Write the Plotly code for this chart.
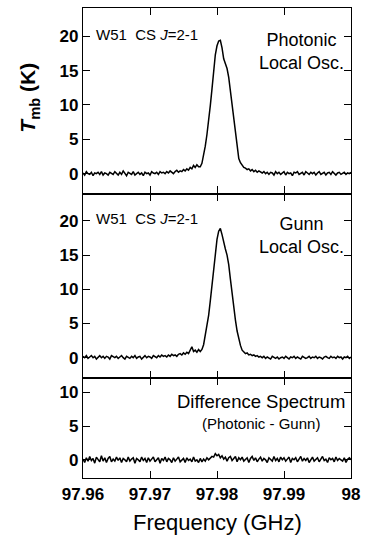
import numpy as np
import plotly.graph_objects as go

# ---- data ----
freq_start = 97.96
freq_step = 0.00025
n_chan = 161

photonic = [
    0.1, -0.2, 0.3, 0.0, -0.1, 0.2, -0.3, 0.1, 0.0, 0.2,
    -0.1, 0.3, -0.2, 0.1, 0.0, -0.2, 0.2, 0.1, -0.1, 0.3,
    0.0, -0.2, 0.2, -0.1, 0.4, 0.0, -0.3, 0.2, 0.1, -0.1,
    0.3, -0.2, 0.0, 0.2, -0.1, 0.1, -0.3, 0.2, 0.0, 0.1,
    -0.2, 0.3, 0.1, 0.0, 0.2, -0.1, 0.3, 0.1, 0.2, 0.0,
    0.3, 0.1, 0.4, 0.2, 0.0, 0.3, 0.5, 0.2, 0.4, 0.3,
    0.6, 0.4, 0.7, 0.5, 0.9, 0.7, 1.2, 0.9, 1.3, 1.0,
    1.0, 1.5, 2.6, 4.0, 5.7, 7.6, 9.9, 12.3, 14.9, 17.3,
    18.6, 19.3, 19.4, 18.3, 16.7, 15.9, 15.3, 14.0, 12.0, 9.6,
    7.5, 5.3, 3.6, 2.2, 1.6, 1.2, 0.9,
    0.8, 0.6, 0.7, 0.4, 0.6, 0.3, 0.5, 0.2, 0.4, 0.3,
    0.1, 0.3, 0.0, 0.2, -0.1, 0.2, 0.1, -0.2, 0.3, 0.0,
    0.2, -0.1, 0.1, 0.3, -0.2, 0.2, 0.0, 0.1, -0.3, 0.2,
    0.1, 0.3, -0.1, 0.0, 0.2, -0.2, 0.3, 0.1, -0.1, 0.2,
    0.0, 0.2, -0.2, 0.1, 0.3, -0.1, 0.0, 0.2, -0.2, 0.1,
    0.2, -0.1, 0.3, 0.0, -0.2, 0.1, 0.2, -0.1, 0.0, 0.2,
    -0.1, 0.1, 0.0, 0.2,
]

gunn = [
    0.2, 0.0, 0.3, -0.1, 0.1, 0.3, 0.0, 0.2, -0.2, 0.1,
    0.3, 0.0, 0.2, -0.1, 0.2, 0.1, -0.2, 0.3, 0.1, 0.0,
    0.2, -0.1, 0.1, 0.3, 0.0, -0.2, 0.2, 0.1, -0.1, 0.2,
    0.0, 0.3, -0.1, 0.1, 0.2, -0.2, 0.1, 0.3, 0.0, 0.2,
    0.1, -0.1, 0.3, 0.2, 0.0, 0.3, 0.1, 0.4, 0.2, 0.3,
    0.1, 0.4, 0.2, 0.5, 0.3, 0.4, 0.2, 0.5, 0.6, 0.4,
    0.7, 0.5, 0.8, 0.6, 1.0, 1.6, 0.9, 1.1, 0.8, 1.2,
    0.9, 1.2, 1.9, 3.2, 4.6, 6.2, 8.3, 10.5, 13.0, 15.4,
    17.3, 18.5, 18.9, 18.0, 16.8, 15.9, 15.0, 13.6, 11.5, 9.3,
    7.3, 5.5, 3.9, 2.6, 1.8, 1.1, 0.8,
    0.6, 0.7, 0.4, 0.5, 0.3, 0.4, 0.2, 0.3, 0.1, 0.2,
    0.0, 0.2, -0.1, 0.1, 0.0, -0.2, 0.2, 0.0, -0.1, 0.1,
    -0.2, 0.0, 0.1, -0.1, 0.2, 0.0, -0.2, 0.1, 0.0, 0.2,
    -0.1, 0.1, 0.0, -0.2, 0.2, 0.1, -0.1, 0.0, 0.2, -0.1,
    0.1, 0.0, 0.2, -0.1, 0.1, 0.0, -0.2, 0.1, 0.2, 0.0,
    -0.1, 0.2, 0.0, 0.1, -0.1, 0.2, 0.0, 0.1, -0.2, 0.1,
    0.0, 0.2, -0.1, 0.1,
]

difference = [
    0.1, -0.4, 0.3, -0.2, 0.5, -0.1, 0.2, -0.5, 0.4, 0.0,
    -0.3, 0.6, -0.2, 0.3, -0.4, 0.2, 0.5, -0.3, 0.1, -0.2,
    0.4, -0.1, 0.3, -0.4, 0.2, 0.0, -0.3, 0.4, -0.2, 0.1,
    0.3, -0.5, 0.2, 0.0, -0.3, 0.4, -0.1, 0.2, -0.4, 0.3,
    -0.2, 0.1, 0.4, -0.3, 0.0, 0.3, -0.5, 0.2, -0.1, 0.4,
    -0.3, 0.2, 0.0, -0.4, 0.3, -0.2, 0.1, 0.4, -0.3, 0.0,
    0.2, -0.4, 0.3, -0.1, 0.1, -0.3, 0.4, -0.2, 0.0, -0.4,
    0.2, -0.3, 0.1, -0.2, 0.3, 0.0, 0.2, 0.5, 0.4, 0.9,
    0.6, 0.8, 0.3, 0.6, 0.1, 0.4, -0.2, 0.3, 0.5, -0.1,
    0.2, 0.5, -0.3, 0.3, 0.0, 0.4, -0.2, 0.1, 0.3, -0.4,
    0.2, 0.5, -0.1, 0.3, -0.3, 0.1, 0.4, -0.2, 0.2, 0.0,
    -0.4, 0.3, 0.1, -0.2, 0.5, -0.1, 0.2, -0.3, 0.4, 0.0,
    0.3, -0.2, 0.1, 0.4, -0.4, 0.2, 0.0, 0.3, -0.3, 0.1,
    0.5, -0.2, 0.2, -0.1, 0.3, -0.4, 0.1, 0.4, -0.2, 0.0,
    0.3, -0.3, 0.2, 0.5, -0.1, 0.1, -0.4, 0.3, 0.0, 0.2,
    -0.3, 0.4, -0.1, 0.2, 0.0, -0.2, 0.3, -0.4, 0.1, 0.3,
    0.0,
]

x_tickvals = [97.96, 97.97, 97.98, 97.99, 98.0]
x_ticktext = ["97.96", "97.97", "97.98", "97.99", "98"]
y_ticks_big = [0, 5, 10, 15, 20]
y_ticks_small = [0, 5, 10]

freq = freq_start + freq_step * np.arange(n_chan)

FONT = "Liberation Sans, Arial, sans-serif"
tickfont = dict(family=FONT, size=17, color="black", weight="bold")

fig = go.Figure()
for y, xa, ya in [(photonic, "x", "y"), (gunn, "x2", "y2"), (difference, "x3", "y3")]:
    fig.add_trace(go.Scatter(x=freq, y=y, xaxis=xa, yaxis=ya, mode="lines",
                             line=dict(color="black", width=1.5), showlegend=False))

H = 471.0
d3 = [0, 100 / H]
d2 = [100 / H, 285 / H]
d1 = [285 / H, 1]

xcommon = dict(range=[97.96, 98.0], tickvals=x_tickvals, ticktext=x_ticktext,
               showline=True, linecolor="black", linewidth=1.3, mirror="allticks",
               ticks="inside", ticklen=7, tickwidth=1.3, tickcolor="black",
               showgrid=False, zeroline=False, tickfont=tickfont)
ycommon = dict(showline=True, linecolor="black", linewidth=1.3, mirror="allticks",
               ticks="inside", ticklen=7, tickwidth=1.3, tickcolor="black",
               showgrid=False, zeroline=False, tickfont=tickfont)

fig.update_layout(
    width=367, height=540,
    margin=dict(l=83, r=12, t=7, b=62),
    paper_bgcolor="white", plot_bgcolor="white",
    xaxis=dict(xcommon, domain=[0, 1], anchor="y", showticklabels=False),
    xaxis2=dict(xcommon, domain=[0, 1], anchor="y2", matches="x", showticklabels=False),
    xaxis3=dict(xcommon, domain=[0, 1], anchor="y3", matches="x", showticklabels=True),
    yaxis=dict(ycommon, domain=d1, anchor="x", range=[-2.9, 24.1], tickvals=y_ticks_big),
    yaxis2=dict(ycommon, domain=d2, anchor="x2", range=[-3.0, 24.0], tickvals=y_ticks_big),
    yaxis3=dict(ycommon, domain=d3, anchor="x3", range=[-2.7, 12.1], tickvals=y_ticks_small),
)

ann_font = dict(family=FONT, size=18, color="black")
small_font = dict(family=FONT, size=15, color="black")
anns = [
    dict(text="W51  CS <i>J</i>=2-1", xref="x domain", yref="y", x=0.04, y=20.3,
         xanchor="left", yanchor="middle", font=small_font),
    dict(text="Photonic<br>Local Osc.", xref="x domain", yref="y", x=0.815, y=17.8,
         xanchor="center", yanchor="middle", font=ann_font),
    dict(text="W51  CS <i>J</i>=2-1", xref="x2 domain", yref="y2", x=0.04, y=20.3,
         xanchor="left", yanchor="middle", font=small_font),
    dict(text="Gunn<br>Local Osc.", xref="x2 domain", yref="y2", x=0.815, y=17.8,
         xanchor="center", yanchor="middle", font=ann_font),
    dict(text="Difference Spectrum", xref="x3 domain", yref="y3", x=0.665, y=8.6,
         xanchor="center", yanchor="middle", font=dict(family=FONT, size=18.5, color="black")),
    dict(text="(Photonic - Gunn)", xref="x3 domain", yref="y3", x=0.665, y=5.4,
         xanchor="center", yanchor="middle", font=small_font),
    dict(text="<i>T</i><sub>mb</sub> (K)", xref="paper", yref="paper", x=-0.2, y=0.81,
         xanchor="center", yanchor="middle", textangle=-90,
         font=dict(family=FONT, size=21, color="black", weight="bold")),
    dict(text="Frequency (GHz)", xref="paper", yref="paper", x=0.5, y=-0.095,
         xanchor="center", yanchor="middle",
         font=dict(family=FONT, size=22, color="black")),
]
for a in anns:
    a["showarrow"] = False
    fig.add_annotation(**a)

fig.write_html("out.html")
